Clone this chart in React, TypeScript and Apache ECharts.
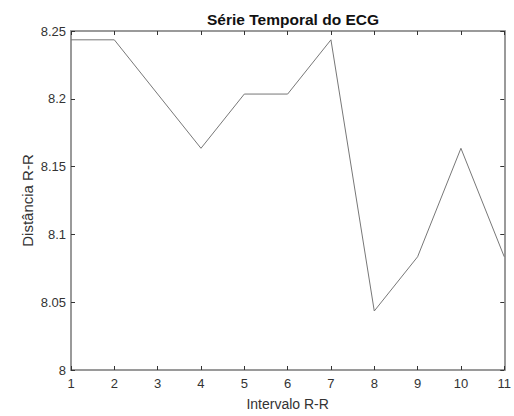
import React, { useEffect, useRef } from "react";
import * as echarts from "echarts";

// R-R interval index and the measured R-R distance
const intervals = [1, 2, 3, 4, 5, 6, 7, 8, 9, 10, 11];
const rrDistance = [8.2435, 8.2435, 8.2035, 8.1635, 8.2035, 8.2035, 8.2435, 8.0435, 8.0835, 8.1635, 8.0835];

const titleText = "Série Temporal do ECG";
const xName = "Intervalo R-R";
const yName = "Distância R-R";

const FONT = "'Liberation Sans', Arial, Helvetica, sans-serif";

export default function App() {
  const ref = useRef<HTMLDivElement>(null);

  useEffect(() => {
    if (!ref.current) return;
    const chart = echarts.init(ref.current, undefined, { renderer: "svg" });

    const boxLine = { show: true, lineStyle: { color: "#9a9a9a", width: 2 } };
    const innerTick = { show: true, inside: true, length: 4, lineStyle: { color: "#333", width: 1 } };
    const labelStyle = { color: "#333", fontSize: 13, fontFamily: FONT };

    chart.setOption({
      animation: false,
      backgroundColor: "#fff",
      title: {
        text: titleText,
        left: 288,
        textAlign: "center",
        top: 6,
        textStyle: { fontSize: 15.5, fontWeight: "bold", color: "#111", fontFamily: FONT },
      },
      grid: { left: 71, right: 9, top: 31, bottom: 42 },
      xAxis: [
        {
          type: "value",
          min: 1,
          max: 11,
          interval: 1,
          position: "bottom",
          axisLine: boxLine,
          axisTick: innerTick,
          axisLabel: { ...labelStyle, margin: 7 },
          splitLine: { show: false },
          name: xName,
          nameLocation: "middle",
          nameGap: 27,
          nameMoveOverlap: false,
          nameTextStyle: { color: "#333", fontSize: 14, fontFamily: FONT },
        },
        {
          type: "value",
          min: 1,
          max: 11,
          interval: 1,
          position: "top",
          axisLine: boxLine,
          axisTick: innerTick,
          axisLabel: { show: false },
          splitLine: { show: false },
        },
      ],
      yAxis: [
        {
          type: "value",
          min: 8,
          max: 8.25,
          interval: 0.05,
          position: "left",
          axisLine: boxLine,
          axisTick: innerTick,
          axisLabel: { ...labelStyle, margin: 5 },
          splitLine: { show: false },
          name: yName,
          nameLocation: "middle",
          nameGap: 36,
          nameMoveOverlap: false,
          nameTextStyle: { color: "#333", fontSize: 15, fontFamily: FONT },
        },
        {
          type: "value",
          min: 8,
          max: 8.25,
          interval: 0.05,
          position: "right",
          axisLine: boxLine,
          axisTick: innerTick,
          axisLabel: { show: false },
          splitLine: { show: false },
        },
      ],
      series: [
        {
          type: "line",
          xAxisIndex: 0,
          yAxisIndex: 0,
          data: intervals.map((x, i) => [x, rrDistance[i]]),
          showSymbol: false,
          lineStyle: { color: "#777", width: 1 },
        },
      ],
    });

    return () => chart.dispose();
  }, []);

  return <div ref={ref} style={{ width: 514, height: 416, position: "absolute", left: 0, top: 0 }} />;
}
